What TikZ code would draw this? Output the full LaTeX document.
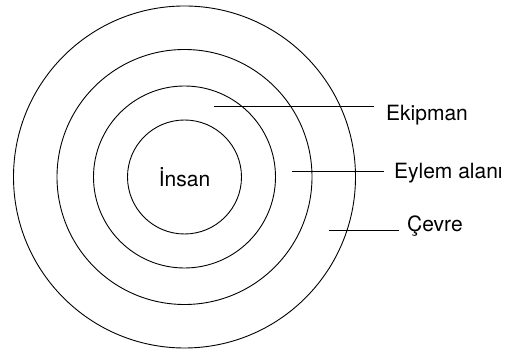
\documentclass[tikz,border=0pt]{standalone}
\usepackage{fontspec}
\setmainfont{TeX Gyre Heros}
\usepackage{tikz}
\usetikzlibrary{positioning, calc}
\tikzset{
  ring/.style={draw, circle, line width=0.9pt, inner sep=0pt, minimum size=#1},
  lbl/.style={anchor=base west, inner sep=0pt, font=\fontsize{21}{25}\selectfont},
  lead/.style={line width=0.8pt}
}

\begin{document}
\begin{tikzpicture}[x=1pt,y=-1pt]
  \useasboundingbox (0,0) rectangle (507,352);
  \coordinate (c) at (184.5,177);
  % rings, outer to inner
  \foreach \d/\n in {342/cevre,255/eylem,182/ekip,114/insan}{
     \node[ring=\d pt] (r-\n) at (c) {};}
  \node[font=\fontsize{21}{25}\selectfont, inner sep=0pt] (insan) at (c) {İnsan};
  % labels
  \node[lbl] (ekipman) at (386,120.5) {Ekipman};
  \node[lbl] (eylem)   at (394,178.3) {Eylem alanı};
  \node[lbl] (cevre)   at (407,231.3) {Çevre};
  \coordinate (p1) at (214,106.5);
  \coordinate (p2) at (291.5,171.5);
  \coordinate (p3) at (329,230.2);
  \draw[lead] (p1) -- ($(p1 -| ekipman.west)+(-12,0)$);
  \draw[lead] (p2) -- ($(p2 -| eylem.west)+(-10,0)$);
  \draw[lead] (p3) -- ($(p3 -| cevre.west)+(-8,0)$);
\end{tikzpicture}
\end{document}
